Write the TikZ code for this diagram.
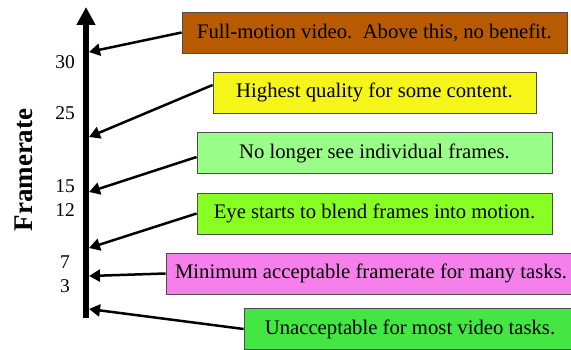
\documentclass[tikz,border=0pt]{standalone}
\usepackage{fontspec}
\setmainfont{Liberation Serif}
\usetikzlibrary{arrows.meta, positioning}

\definecolor{rust}{RGB}{184,90,0}
\definecolor{lemon}{RGB}{245,245,25}
\definecolor{mint}{RGB}{153,255,136}
\definecolor{lime}{RGB}{136,255,34}
\definecolor{orchid}{RGB}{245,128,235}
\definecolor{grass}{RGB}{68,230,68}

\begin{document}
\begin{tikzpicture}[x=1pt, y=-1pt,
		box/.style={draw=black!70, line width=0.8pt, minimum height=41pt, inner sep=0pt, font=\fontsize{20.7}{24}\selectfont},
		pointer/.style={line width=2.5pt, -{Triangle[length=11pt, width=12pt]}},
		ticklabel/.style={font=\fontsize{19.5}{22}\selectfont}]
	\useasboundingbox (0,0) rectangle (571,350);

	% vertical framerate axis
	\coordinate (bottom) at (86,318);
	\coordinate (top) at (86,7);
	\draw[line width=5.5pt, -{Triangle[length=18pt, width=18pt]}] (bottom) -- (top);
	\node[rotate=90, font=\fontsize{27}{30}\selectfont\bfseries] (title) at (24,170) {Framerate};

	\node[ticklabel] (t30) at (65,62) {30};
	\node[ticklabel] (t25) at (65,113) {25};
	\node[ticklabel] (t15) at (65,186) {15};
	\node[ticklabel] (t12) at (65,210) {12};
	\node[ticklabel] (t7) at (65,262) {7};
	\node[ticklabel] (t3) at (65,286) {3};

	% where the pointers hit the axis
	\coordinate (r30) at (89,52);
	\coordinate (r22) at (89,137);
	\coordinate (r15) at (89,192);
	\coordinate (r9) at (89,248);
	\coordinate (r5) at (89,276);
	\coordinate (r1) at (89,309);

	% the comments
	\node[box, fill=rust, minimum width=385pt] (full) at (374.5,32.5) {Full-motion video.\ \ Above this, no benefit.};
	\node[box, fill=lemon, minimum width=323pt] (highest) at (374.5,92.5) {Highest quality for some content.};
	\node[box, fill=mint, minimum width=355pt] (nolonger) at (374.5,153) {No longer see individual frames.};
	\node[box, fill=lime, minimum width=355pt] (blend) at (374.5,213.5) {Eye starts to blend frames into motion.};
	\node[box, fill=orchid, minimum width=410pt] (minimum) at (371,273.5) {Minimum acceptable framerate for many tasks.};
	\node[box, fill=grass, minimum width=332pt] (unaccept) at (410,329) {Unacceptable for most video tasks.};

	\draw[pointer] (full.west) -- (r30);
	\draw[pointer] ([yshift=7.5pt]highest.west) -- (r22);
	\draw[pointer] ([yshift=-4pt]nolonger.west) -- (r15);
	\draw[pointer] (blend.west) -- (r9);
	\draw[pointer] (minimum.west) -- (r5);
	\draw[pointer] (unaccept.west) -- (r1);
\end{tikzpicture}
\end{document}
